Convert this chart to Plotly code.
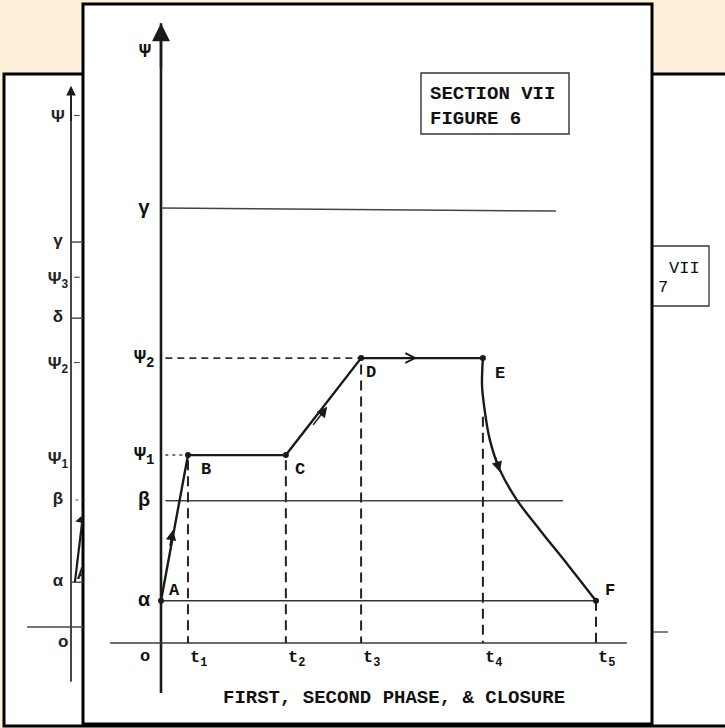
import plotly.graph_objects as go

W, H = 725, 728

# ---------------- Section VII, Figure 6 (front page) ----------------
level_names = ["α", "β", "Ψ<sub>1</sub>", "Ψ<sub>2</sub>", "γ"]
level_values = [0.97, 3.27, 4.32, 6.55, 10.0]
axis_title = "Ψ"
axis_title_value = 13.59

time_names = ["t<sub>1</sub>", "t<sub>2</sub>", "t<sub>3</sub>", "t<sub>4</sub>", "t<sub>5</sub>"]
time_values = [0.62, 2.87, 4.60, 7.40, 10.0]

point_names = ["A", "B", "C", "D", "E", "F"]
point_t = [0.0, 0.62, 2.87, 4.60, 7.40, 10.0]
point_psi = [0.97, 4.32, 4.32, 6.55, 6.55, 0.97]

# closure curve E -> F
closure_t = [7.40, 7.38, 7.43, 7.56, 7.79, 8.18, 8.71, 9.36, 10.0]
closure_psi = [6.55, 5.93, 5.43, 4.67, 3.98, 3.29, 2.60, 1.79, 0.97]

# vertical dashed drop lines: start level for each t
drop_start = [4.20, 4.20, 6.40, 5.20, 0.97]

# horizontal reference lines (t extent)
gamma_end = 9.08
beta_end = 9.24
axis_t_extent = [-1.17, 10.71]
axis_psi_extent = [-1.15, 14.25]

# ---------------- Section VII, Figure 7 (back page, partly hidden) ----------------
f7_names = ["α", "β", "Ψ<sub>1</sub>", "Ψ<sub>2</sub>", "δ", "Ψ<sub>3</sub>", "γ", "Ψ"]
f7_values = [1.03, 2.92, 3.84, 6.02, 7.10, 7.98, 8.85, 11.70]
f7_solid = ["α", "δ", "γ"]
f7_dash_tick = ["Ψ<sub>2</sub>", "Ψ<sub>3</sub>", "Ψ"]

title_text = "FIRST, SECOND PHASE, &amp; CLOSURE"
box_text = "SECTION VII<br>FIGURE 6"

INK = "#1a1a1a"
GREY = "#3a3a3a"
MONO = "Liberation Mono"

def px(xp):
    return xp / W

def py(yp):
    return 1 - yp / H

fig = go.Figure()

def line(x, y, width=1.5, color=GREY, dash="solid", xa="x", ya="y", shape="linear"):
    fig.add_trace(go.Scatter(x=x, y=y, mode="lines", xaxis=xa, yaxis=ya,
                             line=dict(color=color, width=width, dash=dash, shape=shape),
                             hoverinfo="skip", showlegend=False))

# main axes
line([0, 0], axis_psi_extent, width=2.6, color=INK)
line(axis_t_extent, [0, 0], width=1.4, color=GREY)

# horizontal reference lines
line([0, gamma_end], [level_values[4], level_values[4] - 0.07], width=1.5, color="#444")
line([0.1, beta_end], [level_values[1], level_values[1]], width=1.3, color="#444")
line([0, point_t[-1]], [level_values[0], level_values[0]], width=1.5, color="#333")
line([0.1, point_t[1]], [level_values[2], level_values[2]], width=1.5, color="#444", dash="3px,4px")
line([0.1, point_t[3]], [level_values[3], level_values[3]], width=1.6, color="#333", dash="7px,5px")

# vertical dashed lines
for t, s in zip(time_values, drop_start):
    line([t, t], [s, 0], width=2.0, color="#222", dash="10px,6px")

# trajectory
line(point_t[:5], point_psi[:5], width=2.4, color=INK)
line(closure_t, closure_psi, width=2.4, color=INK, shape="spline")
fig.add_trace(go.Scatter(x=point_t, y=point_psi, mode="markers",
                         marker=dict(color=INK, size=6), hoverinfo="skip", showlegend=False))

annotations = []

def arrow(head, tail, head_style=2, size=1.2, width=1.6, xref="x", yref="y"):
    annotations.append(dict(x=head[0], y=head[1], ax=tail[0], ay=tail[1],
                            xref=xref, yref=yref, axref=xref, ayref=yref,
                            showarrow=True, arrowhead=head_style, arrowsize=size,
                            arrowwidth=width, arrowcolor=INK, text=""))

arrow((0, axis_psi_extent[1]), (0, 13.2), head_style=2, size=1.5, width=2.4)
arrow((0.276, 2.60), (0.20, 2.20), head_style=2, size=1.3, width=1.6)
arrow((3.82, 5.43), (3.47, 4.98), head_style=2, size=1.3, width=1.6)
arrow((5.89, 6.55), (5.40, 6.55), head_style=5, size=1.6, width=1.2)
arrow((7.79, 3.93), (7.68, 4.30), head_style=2, size=1.3, width=1.6)

label_font = dict(family=MONO, size=17, color="#111", weight="bold")
greek_font = dict(family=MONO, size=20, color="#111", weight="bold")

# level labels
for name, v in zip(level_names, level_values):
    annotations.append(dict(x=0, y=v, xref="x", yref="y", text=name, showarrow=False,
                            xanchor="center", yanchor="middle", xshift=-17, font=greek_font))
annotations.append(dict(x=0, y=axis_title_value, xref="x", yref="y", text=axis_title,
                        showarrow=False, xanchor="center", yanchor="middle", xshift=-16,
                        font=greek_font))
annotations.append(dict(x=0, y=0, xref="x", yref="y", text="o", showarrow=False,
                        xanchor="center", yanchor="middle", xshift=-16, yshift=-13,
                        font=label_font))

# time labels
for name, t in zip(time_names, time_values):
    annotations.append(dict(x=t, y=0, xref="x", yref="y", text=name, showarrow=False,
                            xanchor="left", yanchor="middle", xshift=0, yshift=-16,
                            font=label_font))

# point labels
label_shift = {"A": (13, 10), "B": (18, -14), "C": (14, -14), "D": (10, -14),
               "E": (17, -15), "F": (14, 10)}
for name, t, v in zip(point_names, point_t, point_psi):
    dx, dy = label_shift[name]
    annotations.append(dict(x=t, y=v, xref="x", yref="y", text=name, showarrow=False,
                            xanchor="center", yanchor="middle", xshift=dx, yshift=dy,
                            font=label_font))

# title and figure box
annotations.append(dict(x=px(394), y=py(698), xref="paper", yref="paper", text=title_text,
                        showarrow=False, xanchor="center", yanchor="middle",
                        font=dict(family=MONO, size=19, color="#111", weight="bold")))
annotations.append(dict(x=px(428), y=py(106), xref="paper", yref="paper", text=box_text,
                        showarrow=False, xanchor="left", yanchor="middle", align="left",
                        font=dict(family=MONO, size=19, color="#111", weight="bold")))

# ---------- Figure 7 strip (xaxis2 / yaxis2, clipped to visible strip) ----------
line([0, 0], [-1.26, 12.3], width=1.8, color="#333", xa="x2", ya="y2")
arrow((0, 12.44), (0, 11.6), head_style=2, size=1.2, width=1.6, xref="x2", yref="y2")
line([-1.01, 0.4], [0, 0], width=1.4, color="#444", xa="x2", ya="y2")
for name, v in zip(f7_names, f7_values):
    if name in f7_solid:
        line([0, 0.4], [v, v], width=1.4, color="#444", xa="x2", ya="y2")
    elif name in f7_dash_tick:
        line([0.07, 0.2], [v + 0.06, v + 0.06], width=1.2, color="#555", xa="x2", ya="y2")
line([0.1, 0.4], [f7_values[1], f7_values[1]], width=1.2, color="#555", dash="3px,3px", xa="x2", ya="y2")
line([0.09, 0.32], [f7_values[0], 2.95], width=2.2, color=INK, xa="x2", ya="y2")
fig.add_trace(go.Scatter(x=[0.21], y=[2.45], mode="markers", xaxis="x2", yaxis="y2",
                         marker=dict(symbol="triangle-up", size=8, color=INK, angle=10),
                         hoverinfo="skip", showlegend=False))
f7_font = dict(family="Liberation Sans", size=17, color="#222", weight="bold")
fig.add_trace(go.Scatter(x=[-0.3] * len(f7_values), y=f7_values, mode="text", text=f7_names,
                         textfont=f7_font, xaxis="x2", yaxis="y2",
                         hoverinfo="skip", showlegend=False))
fig.add_trace(go.Scatter(x=[-0.18, 0.27], y=[-0.37, 1.2], mode="text", text=["o", "A"],
                         textfont=f7_font, xaxis="x2", yaxis="y2",
                         hoverinfo="skip", showlegend=False))

annotations.append(dict(x=px(667), y=py(268), xref="paper", yref="paper", text="VII",
                        showarrow=False, xanchor="left", yanchor="middle",
                        font=dict(family=MONO, size=17, color="#111")))
annotations.append(dict(x=px(656), y=py(288), xref="paper", yref="paper", text="7",
                        showarrow=False, xanchor="left", yanchor="middle",
                        font=dict(family=MONO, size=17, color="#111")))

shapes = [
    # back page
    dict(type="rect", xref="paper", yref="paper", x0=px(4), x1=px(740), y0=py(726), y1=py(74),
         fillcolor="white", line=dict(color="black", width=3), layer="below"),
    # figure 7 box (partly hidden)
    dict(type="rect", xref="paper", yref="paper", x0=px(600), x1=px(709), y0=py(306), y1=py(246),
         fillcolor="white", line=dict(color="#333", width=1.3), layer="below"),
    dict(type="line", xref="paper", yref="paper", x0=px(600), x1=px(668), y0=py(632), y1=py(632),
         line=dict(color="#555", width=1.4), layer="below"),
    # front page
    dict(type="rect", xref="paper", yref="paper", x0=px(83), x1=px(652), y0=py(724), y1=py(4),
         fillcolor="white", line=dict(color="black", width=3), layer="below"),
    # figure 6 box
    dict(type="rect", xref="paper", yref="paper", x0=px(421), x1=px(569), y0=py(134), y1=py(73),
         fillcolor="white", line=dict(color="#333", width=1.4), layer="below"),
]

fig.update_layout(
    width=W, height=H,
    margin=dict(l=0, r=0, t=0, b=0, autoexpand=False),
    paper_bgcolor="#fdf0d8",
    plot_bgcolor="rgba(0,0,0,0)",
    showlegend=False,
    xaxis=dict(domain=[0, 1], range=[-161 / 43.5, 564 / 43.5], visible=False, fixedrange=True),
    yaxis=dict(domain=[0, 1], range=[(643 - 728) / 43.5, 643 / 43.5], visible=False, fixedrange=True),
    xaxis2=dict(domain=[4 / W, 83 / W], range=[-(71 - 4) / 43.5, (83 - 71) / 43.5],
                visible=False, anchor="y2", fixedrange=True),
    yaxis2=dict(domain=[0, 1], range=[(627 - 728) / 43.5, 627 / 43.5],
                visible=False, anchor="x2", fixedrange=True),
    shapes=shapes,
    annotations=annotations,
)

fig.write_html("out.html", config={"displayModeBar": False},
               post_script="document.body.style.margin='0';document.body.style.padding='0';")
